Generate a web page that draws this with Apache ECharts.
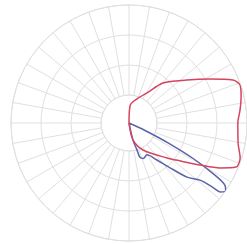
<!DOCTYPE html>
<html>
<head>
<meta charset="utf-8">
<script src="https://cdn.jsdelivr.net/npm/echarts@6/dist/echarts.min.js"></script>
<style>
  html, body { margin: 0; padding: 0; background: #fff; }
  #canvas { width: 247px; height: 244px; }
</style>
</head>
<body>
<div id="canvas"></div>
<script>
// [intensity, angle in degrees, 0 = right, counterclockwise]
var redCurve = [
    [0, 86], [61, 86], [90, 70], [119, 59], [178, 49.6], [244, 36.6], [312, 28.5],
    [381, 22.5], [398, 18.6], [390, 13], [379, 6.7], [369, 0], [376, -10.4],
    [395, -17.5], [392, -22.4], [344, -26.3], [280, -30.6], [220, -36],
    [175, -42.6], [103, -62.6], [59, -76.8], [0, -80]
];
var blueCurve = [
    [0, -25], [60, -25], [150, -27], [250, -29], [330, -31], [388, -33],
    [400, -35], [388, -37], [358, -37.5], [309, -38.8], [269, -43], [200, -48],
    [157, -53], [124, -60.6], [130, -68], [121, -72.5], [95, -73.5], [59, -77], [0, -78]
];
var ringMax = 3;   // rings outside the blank centre
var maxValue = 400;

var myChart = echarts.init(document.getElementById('canvas'));
var gridColor = '#e0e0e0';
option = {
    backgroundColor: '#fff',
    animation: false,
    polar: [
        { center: [129, 123], radius: [28, 118] },
        { center: [129, 123], radius: [0, 118] }
    ],
    angleAxis: [{
        polarIndex: 0,
        type: 'value',
        min: 0,
        max: 360,
        interval: 10,
        startAngle: 0,
        clockwise: false,
        axisLine: { show: true, lineStyle: { color: gridColor, width: 1 } },
        axisTick: { show: false },
        axisLabel: { show: false },
        splitLine: { show: true, lineStyle: { color: gridColor, width: 1 } }
    }, {
        polarIndex: 1,
        type: 'value',
        min: -180,
        max: 180,
        startAngle: 180,
        clockwise: false,
        axisLine: { show: false },
        axisTick: { show: false },
        axisLabel: { show: false },
        splitLine: { show: false }
    }],
    radiusAxis: [{
        polarIndex: 0,
        type: 'value',
        min: 0,
        max: ringMax,
        interval: 1,
        axisLine: { show: false },
        axisTick: { show: false },
        axisLabel: { show: false },
        splitLine: { show: true, lineStyle: { color: gridColor, width: 1 } }
    }, {
        polarIndex: 1,
        type: 'value',
        min: 0,
        max: maxValue,
        axisLine: { show: false },
        axisTick: { show: false },
        axisLabel: { show: false },
        splitLine: { show: false }
    }],
    series: [{
        type: 'line',
        coordinateSystem: 'polar',
        polarIndex: 1,
        data: blueCurve,
        smooth: 0.3,
        symbol: 'none',
        lineStyle: { color: '#5a64a8', width: 1.5 }
    }, {
        type: 'line',
        coordinateSystem: 'polar',
        polarIndex: 1,
        data: redCurve,
        smooth: 0.3,
        symbol: 'none',
        lineStyle: { color: '#d6455f', width: 1.5 }
    }]
};
myChart.setOption(option);
</script>
</body>
</html>
